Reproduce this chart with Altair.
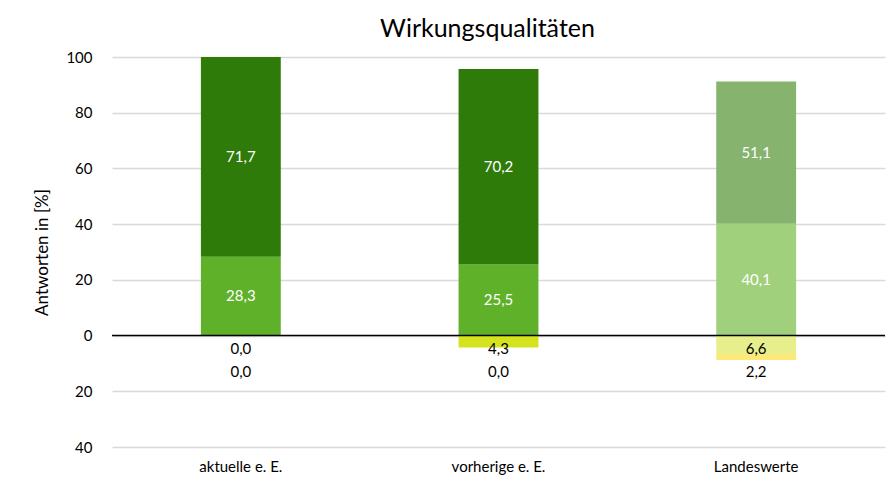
import altair as alt
import pandas as pd

categories = ["aktuelle e. E.", "vorherige e. E.", "Landeswerte"]
pos_low = [28.3, 25.5, 40.1]
pos_high = [71.7, 70.2, 51.1]
neg_first = [0.0, 4.3, 6.6]
neg_second = [0.0, 0.0, 2.2]

col_pos_low = ["#5fb12a", "#5fb12a", "#a0d07b"]
col_pos_high = ["#2e7b0a", "#2e7b0a", "#86b36e"]
col_neg_first = ["#d5e31e", "#d5e31e", "#e6ef8c"]
col_neg_second = ["#fde97a", "#fde97a", "#fde97a"]

rows = []
for i, c in enumerate(categories):
    rows.append(dict(cat=c, ord=1, v=pos_low[i], color=col_pos_low[i], tcol="white"))
    rows.append(dict(cat=c, ord=2, v=pos_high[i], color=col_pos_high[i], tcol="white"))
    rows.append(dict(cat=c, ord=3, v=-neg_first[i], color=col_neg_first[i], tcol="black"))
    rows.append(dict(cat=c, ord=4, v=-neg_second[i], color=col_neg_second[i], tcol="black"))
df = pd.DataFrame(rows)
df["label"] = df["v"].abs().map(lambda x: f"{x:.1f}".replace(".", ","))

FONT = "Lato"

base = alt.Chart(df).transform_stack(
    stack="v", groupby=["cat"], as_=["v0", "v1"], sort=[alt.SortField("ord")]
).transform_calculate(
    mid="datum.ord == 3 ? -4.8 : (datum.ord == 4 ? -13.0 : (datum.v0 + datum.v1) / 2)"
)

xenc = alt.X("cat:N", sort=categories, title=None,
             scale=alt.Scale(paddingInner=0.69, paddingOuter=0.345),
             axis=alt.Axis(labelAngle=0, labelFontSize=15, labelFont=FONT, labelColor="#000000",
                           domain=False, ticks=False, labelPadding=12))

yscale = alt.Scale(domain=[-40, 100], nice=False)

bars = base.mark_bar().encode(
    x=xenc,
    y=alt.Y("v0:Q", scale=yscale, title="Antworten in [%]",
            axis=alt.Axis(values=[-40, -20, 0, 20, 40, 60, 80, 100],
                          labelExpr="format(abs(datum.value), 'd')",
                          labelFontSize=15, labelFont=FONT, labelColor="#000000",
                          titleFont=FONT, titleFontSize=17, titleFontWeight="normal",
                          titleColor="#000000", titlePadding=14,
                          domain=False, ticks=False, labelPadding=20,
                          gridColor="#d9d9d9", gridWidth=1.5)),
    y2="v1:Q",
    color=alt.Color("color:N", scale=None),
)

zero = alt.Chart(pd.DataFrame({"z": [0]})).mark_rule(color="black", strokeWidth=1.5).encode(
    y=alt.Y("z:Q", scale=yscale)
)

texts = base.mark_text(fontSize=15, font=FONT, baseline="middle").encode(
    x=alt.X("cat:N", sort=categories),
    y=alt.Y("mid:Q", scale=yscale),
    text="label:N",
    color=alt.Color("tcol:N", scale=None),
)

chart = alt.layer(bars, zero, texts).properties(
    width=773, height=390,
    title=alt.TitleParams("Wirkungsqualitäten", fontSize=25, font=FONT, fontWeight="normal",
                          color="#000000", anchor="middle", offset=8, dx=-11),
    autosize=alt.AutoSizeParams(type="none"),
    padding={"left": 104, "top": 49, "right": 1, "bottom": 30},
).configure_view(stroke=None)

chart.save("out.html", embed_options={"renderer": "svg", "actions": False})
